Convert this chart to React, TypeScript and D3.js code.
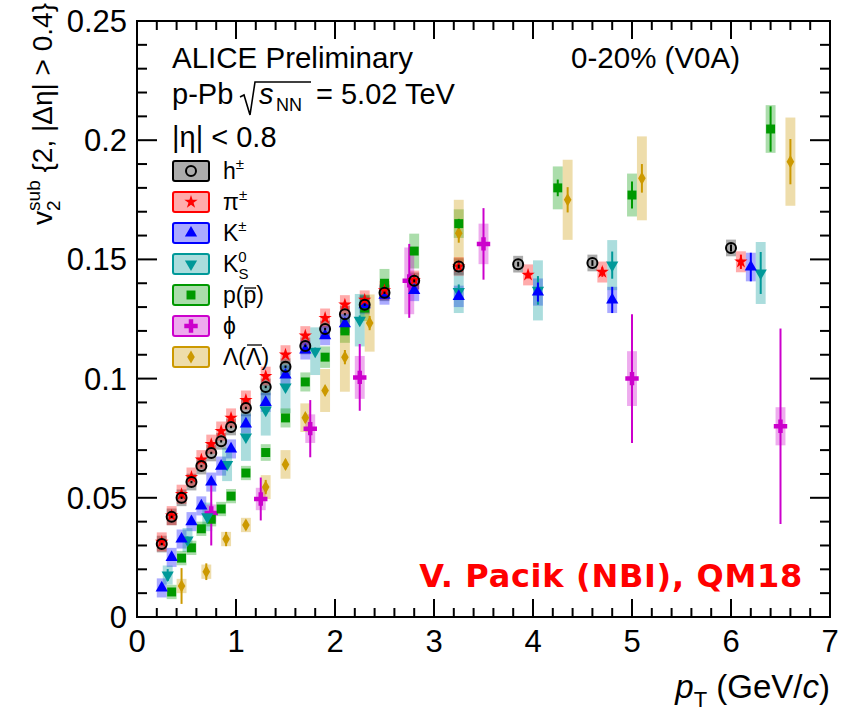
import React from 'react';
import * as d3 from 'd3';

// [pT, v2, stat error, systematic error]
type P = [number, number, number, number];

const hData: P[] = [
  [0.25, 0.0306, 0.0005, 0.0035], [0.35, 0.042, 0.0005, 0.0035], [0.45, 0.05, 0.0005, 0.0035],
  [0.55, 0.0566, 0.0005, 0.0035], [0.65, 0.0633, 0.0005, 0.0035], [0.75, 0.0688, 0.0005, 0.0035],
  [0.85, 0.0737, 0.0005, 0.0035], [0.95, 0.0797, 0.0005, 0.0035], [1.1, 0.0877, 0.0005, 0.0035],
  [1.3, 0.0965, 0.0005, 0.0035], [1.5, 0.105, 0.0005, 0.0035], [1.7, 0.1137, 0.0005, 0.0035],
  [1.9, 0.1208, 0.0005, 0.0035], [2.1, 0.127, 0.0005, 0.0035], [2.3, 0.131, 0.0005, 0.0035],
  [2.5, 0.136, 0.0005, 0.0035], [2.8, 0.141, 0.0006, 0.0035], [3.25, 0.147, 0.0008, 0.0035],
  [3.85, 0.148, 0.001, 0.0035], [4.6, 0.1485, 0.0012, 0.0035], [6.0, 0.1548, 0.0015, 0.0035],
];
const piData: P[] = [
  [0.25, 0.0315, 0.0006, 0.004], [0.35, 0.0425, 0.0006, 0.004], [0.45, 0.0515, 0.0006, 0.004],
  [0.55, 0.0587, 0.0006, 0.004], [0.65, 0.066, 0.0006, 0.004], [0.75, 0.0725, 0.0006, 0.004],
  [0.85, 0.078, 0.0006, 0.004], [0.95, 0.0835, 0.0006, 0.004], [1.1, 0.091, 0.0006, 0.004],
  [1.3, 0.101, 0.0006, 0.004], [1.5, 0.11, 0.0006, 0.004], [1.7, 0.118, 0.0006, 0.004],
  [1.9, 0.1254, 0.0006, 0.004], [2.1, 0.131, 0.0006, 0.004], [2.3, 0.133, 0.0006, 0.004],
  [2.5, 0.137, 0.0007, 0.004], [2.8, 0.1413, 0.0008, 0.004], [3.25, 0.147, 0.001, 0.004],
  [3.95, 0.1435, 0.0015, 0.0044], [4.7, 0.1447, 0.002, 0.0044], [6.1, 0.149, 0.003, 0.0044],
];
const kData: P[] = [
  [0.25, 0.0122, 0.0008, 0.004], [0.35, 0.025, 0.0008, 0.004], [0.45, 0.0327, 0.0008, 0.004],
  [0.55, 0.04, 0.0008, 0.004], [0.65, 0.0466, 0.0008, 0.004], [0.75, 0.0566, 0.0008, 0.004],
  [0.85, 0.0633, 0.0008, 0.004], [0.95, 0.0705, 0.0008, 0.004], [1.1, 0.081, 0.0008, 0.004],
  [1.3, 0.09, 0.0008, 0.004], [1.5, 0.1015, 0.0008, 0.004], [1.7, 0.112, 0.0008, 0.004],
  [1.9, 0.118, 0.0008, 0.004], [2.1, 0.123, 0.0008, 0.004], [2.3, 0.131, 0.001, 0.004],
  [2.5, 0.135, 0.001, 0.004], [2.8, 0.137, 0.0012, 0.0045], [3.25, 0.1345, 0.0015, 0.0045],
  [4.05, 0.1363, 0.004, 0.0057], [4.8, 0.133, 0.0055, 0.0055], [6.2, 0.1468, 0.006, 0.006],
];
const k0sData: P[] = [
  [0.31, 0.0176, 0.0025, 0.004], [0.51, 0.0323, 0.0015, 0.005], [0.71, 0.042, 0.0012, 0.006],
  [0.91, 0.064, 0.0012, 0.007], [1.1, 0.0755, 0.0012, 0.01], [1.3, 0.0868, 0.0012, 0.0107],
  [1.5, 0.0965, 0.0012, 0.011], [1.8, 0.1115, 0.0015, 0.01], [2.25, 0.1245, 0.002, 0.011],
  [3.25, 0.1365, 0.003, 0.009], [4.05, 0.137, 0.006, 0.0126], [4.8, 0.1476, 0.0057, 0.0105],
  [6.3, 0.1443, 0.0088, 0.013],
];
const pData: P[] = [
  [0.35, 0.0105, 0.0012, 0.003], [0.45, 0.0247, 0.001, 0.003], [0.55, 0.029, 0.001, 0.003],
  [0.65, 0.037, 0.001, 0.003], [0.75, 0.041, 0.001, 0.003], [0.85, 0.0453, 0.001, 0.003],
  [0.95, 0.0507, 0.001, 0.003], [1.1, 0.0604, 0.001, 0.003], [1.3, 0.069, 0.001, 0.0035],
  [1.5, 0.0835, 0.001, 0.004], [1.7, 0.0986, 0.001, 0.004], [1.9, 0.109, 0.001, 0.0045],
  [2.1, 0.12, 0.0012, 0.005], [2.3, 0.1296, 0.0012, 0.0055], [2.5, 0.14, 0.0015, 0.006],
  [2.8, 0.1535, 0.0015, 0.0073], [3.25, 0.165, 0.002, 0.006], [4.25, 0.18, 0.0035, 0.009],
  [5.0, 0.177, 0.0057, 0.009], [6.4, 0.2047, 0.0095, 0.01],
];
const phiData: P[] = [
  [0.75, 0.0436, 0.0136, 0.0036], [1.25, 0.0495, 0.009, 0.0047], [1.75, 0.079, 0.012, 0.006],
  [2.25, 0.1005, 0.014, 0.009], [2.75, 0.141, 0.0155, 0.014], [3.5, 0.1565, 0.015, 0.0085],
  [5.0, 0.1, 0.027, 0.0115], [6.5, 0.08, 0.041, 0.008],
];
const lambdaData: P[] = [
  [0.45, 0.013, 0.0075, 0.003], [0.7, 0.019, 0.0035, 0.003], [0.9, 0.0327, 0.003, 0.003],
  [1.1, 0.0386, 0.002, 0.003], [1.3, 0.0545, 0.003, 0.005], [1.5, 0.064, 0.002, 0.006],
  [1.7, 0.0836, 0.002, 0.006], [1.9, 0.095, 0.002, 0.009], [2.1, 0.109, 0.003, 0.0145],
  [2.35, 0.1233, 0.003, 0.012], [3.25, 0.161, 0.004, 0.014], [4.35, 0.175, 0.0053, 0.0168],
  [5.1, 0.184, 0.006, 0.0176], [6.6, 0.191, 0.0095, 0.0185],
];

const xTicks = [0, 1, 2, 3, 4, 5, 6, 7];
const yTicks = [0, 0.05, 0.1, 0.15, 0.2, 0.25];
const yTickLabels = ['0', '0.05', '0.1', '0.15', '0.2', '0.25'];

type Shape = 'circle' | 'star' | 'triUp' | 'triDown' | 'square' | 'cross' | 'diamond';
interface Series { key: string; color: string; shape: Shape; data: P[] }

const series: Series[] = [
  { key: 'h', color: '#000000', shape: 'circle', data: hData },
  { key: 'pi', color: '#ff0000', shape: 'star', data: piData },
  { key: 'k', color: '#0000ff', shape: 'triUp', data: kData },
  { key: 'k0s', color: '#009999', shape: 'triDown', data: k0sData },
  { key: 'p', color: '#009900', shape: 'square', data: pData },
  { key: 'phi', color: '#cc00cc', shape: 'cross', data: phiData },
  { key: 'lambda', color: '#cc9900', shape: 'diamond', data: lambdaData },
];

const FONT = '"Liberation Sans", Arial, Helvetica, sans-serif';

const symPath: Record<string, string> = {
  star: d3.symbol(d3.symbolStar, 55)() as string,
  triUp: d3.symbol(d3.symbolTriangle, 65)() as string,
  triDown: d3.symbol(d3.symbolTriangle, 65)() as string,
  square: d3.symbol(d3.symbolSquare, 80)() as string,
  cross: d3.symbol(d3.symbolCross, 100)() as string,
  diamond: d3.symbol(d3.symbolDiamond, 50)() as string,
};

function Marker({ shape, color, cx, cy }: { shape: Shape; color: string; cx: number; cy: number }) {
  if (shape === 'circle') {
    return <circle cx={cx} cy={cy} r={5} fill="none" stroke={color} strokeWidth={2} />;
  }
  const rot = shape === 'triDown' ? ' rotate(180)' : '';
  return <path d={symPath[shape]} transform={`translate(${cx},${cy})${rot}`} fill={color} />;
}

export default function App() {
  const x = d3.scaleLinear().domain([0, 7]).range([137, 830]);
  const y = d3.scaleLinear().domain([0, 0.25]).range([617, 21]);
  const [x0, x1] = x.range();
  const [y0, y1] = y.range();
  const boxHalf = 0.05;

  const yMinor = d3.range(0, 0.2501, 0.01);
  const xMinor = d3.range(0, 7.001, 0.2);

  const legendRows = [
    { s: series[0], label: <><tspan>h</tspan><tspan dy={-10} fontSize={15}>±</tspan></> },
    { s: series[1], label: <><tspan>π</tspan><tspan dy={-10} fontSize={15}>±</tspan></> },
    { s: series[2], label: <><tspan>K</tspan><tspan dy={-10} fontSize={15}>±</tspan></> },
    { s: series[3], label: <><tspan>K</tspan><tspan dy={-10} fontSize={15}>0</tspan><tspan dx={-8.3} dy={17} fontSize={15}>S</tspan></> },
    { s: series[4], label: <tspan>p(p)</tspan>, over: [21, 33, 15] },
    { s: series[5], label: <tspan>ϕ</tspan> },
    { s: series[6], label: <tspan>Λ(Λ)</tspan>, over: [24, 39, 20] },
  ];

  return (
    <svg width={844} height={718} style={{ position: 'absolute', left: 0, top: 0, background: '#fff' }} fontFamily={FONT}>
      <rect x={0} y={0} width={844} height={718} fill="#fff" />
      {/* systematic boxes */}
      {series.map((s) => (
        <g key={`box-${s.key}`}>
          {s.data.map((d, i) => (
            <rect key={i} x={x(d[0] - boxHalf)} y={y(d[1] + d[3])} width={x(d[0] + boxHalf) - x(d[0] - boxHalf)}
              height={y(d[1] - d[3]) - y(d[1] + d[3])} fill={s.color} fillOpacity={0.33} />
          ))}
        </g>
      ))}
      {/* stat errors and markers */}
      {[...series].reverse().map((s) => (
        <g key={`mk-${s.key}`}>
          {s.data.map((d, i) => (
            <g key={i}>
              <line x1={x(d[0])} x2={x(d[0])} y1={y(d[1] + d[2])} y2={y(d[1] - d[2])} stroke={s.color} strokeWidth={2} />
              <Marker shape={s.shape} color={s.color} cx={x(d[0])} cy={y(d[1])} />
            </g>
          ))}
        </g>
      ))}

      {/* frame */}
      <rect x={x0} y={y1} width={x1 - x0} height={y0 - y1} fill="none" stroke="#000" strokeWidth={2} />
      {yMinor.map((v, i) => {
        const major = i % 5 === 0;
        const len = major ? 20 : 10;
        return (
          <g key={`yt${i}`}>
            <line x1={x0} x2={x0 + len} y1={y(v)} y2={y(v)} stroke="#000" strokeWidth={2} />
            <line x1={x1} x2={x1 - len} y1={y(v)} y2={y(v)} stroke="#000" strokeWidth={2} />
          </g>
        );
      })}
      {xMinor.map((v, i) => {
        const major = i % 5 === 0;
        const len = major ? 18 : 9;
        return (
          <g key={`xt${i}`}>
            <line x1={x(v)} x2={x(v)} y1={y0} y2={y0 - len} stroke="#000" strokeWidth={2} />
            <line x1={x(v)} x2={x(v)} y1={y1} y2={y1 + len} stroke="#000" strokeWidth={2} />
          </g>
        );
      })}
      {xTicks.map((t) => (
        <text key={`xl${t}`} x={x(t)} y={652} fontSize={31} textAnchor="middle">{t}</text>
      ))}
      {yTicks.map((t, i) => (
        <text key={`yl${t}`} x={127} y={y(t) + 11} fontSize={31} textAnchor="end">{yTickLabels[i]}</text>
      ))}

      {/* axis titles */}
      <text x={830} y={698} fontSize={33} textAnchor="end">
        <tspan fontStyle="italic">p</tspan>
        <tspan fontSize={22} dy={9}>T</tspan>
        <tspan dy={-9}> (GeV/</tspan>
        <tspan fontStyle="italic">c</tspan>
        <tspan>)</tspan>
      </text>
      <g transform="translate(52,3) rotate(-90)">
        <text x={0} y={0} fontSize={28} textAnchor="end">
          <tspan>v</tspan>
          <tspan dy={-12} fontSize={19}>sub</tspan>
          <tspan dx={-30.6} dy={20} fontSize={19}>2</tspan>
          <tspan dx={20} dy={-8}> {'{'}2, |Δη| &gt; 0.4{'}'}</tspan>
        </text>
      </g>

      {/* header texts */}
      <text x={172} y={68} fontSize={29.5}>ALICE Preliminary</text>
      <text x={740} y={68} fontSize={29.5} textAnchor="end">0-20% (V0A)</text>
      <text x={172} y={104} fontSize={29}>p-Pb</text>
      <path d="M240,97 L244,95 L250,115 L255,82 L311,82" fill="none" stroke="#000" strokeWidth={1.6} />
      <text x={259} y={104} fontSize={29} fontStyle="italic">s</text>
      <text x={276} y={111} fontSize={18}>NN</text>
      <text x={316} y={104} fontSize={29}>= 5.02 TeV</text>
      <text x={172} y={147} fontSize={29}>|η| &lt; 0.8</text>

      {/* legend */}
      {legendRows.map((r, i) => {
        const cy = 171 + i * 31;
        return (
          <g key={`lg${i}`}>
            <rect x={173} y={cy - 10} width={36} height={20} rx={2} fill={r.s.color} fillOpacity={0.33}
              stroke={r.s.color} strokeWidth={2} />
            <Marker shape={r.s.shape} color={r.s.color} cx={191} cy={cy} />
            <text x={223} y={cy + 8} fontSize={23}>{r.label}</text>
            {r.over && (
              <line x1={223 + r.over[0]} x2={223 + r.over[1]} y1={cy + 8 - r.over[2]} y2={cy + 8 - r.over[2]}
                stroke="#000" strokeWidth={1.3} />
            )}
          </g>
        );
      })}

      <text x={803} y={587} fontSize={32} fontWeight="bold" fill="#ff0000" textAnchor="end" letterSpacing={0.7}
        fontFamily='"DejaVu Sans", sans-serif'>V. Pacik (NBI), QM18</text>
    </svg>
  );
}
